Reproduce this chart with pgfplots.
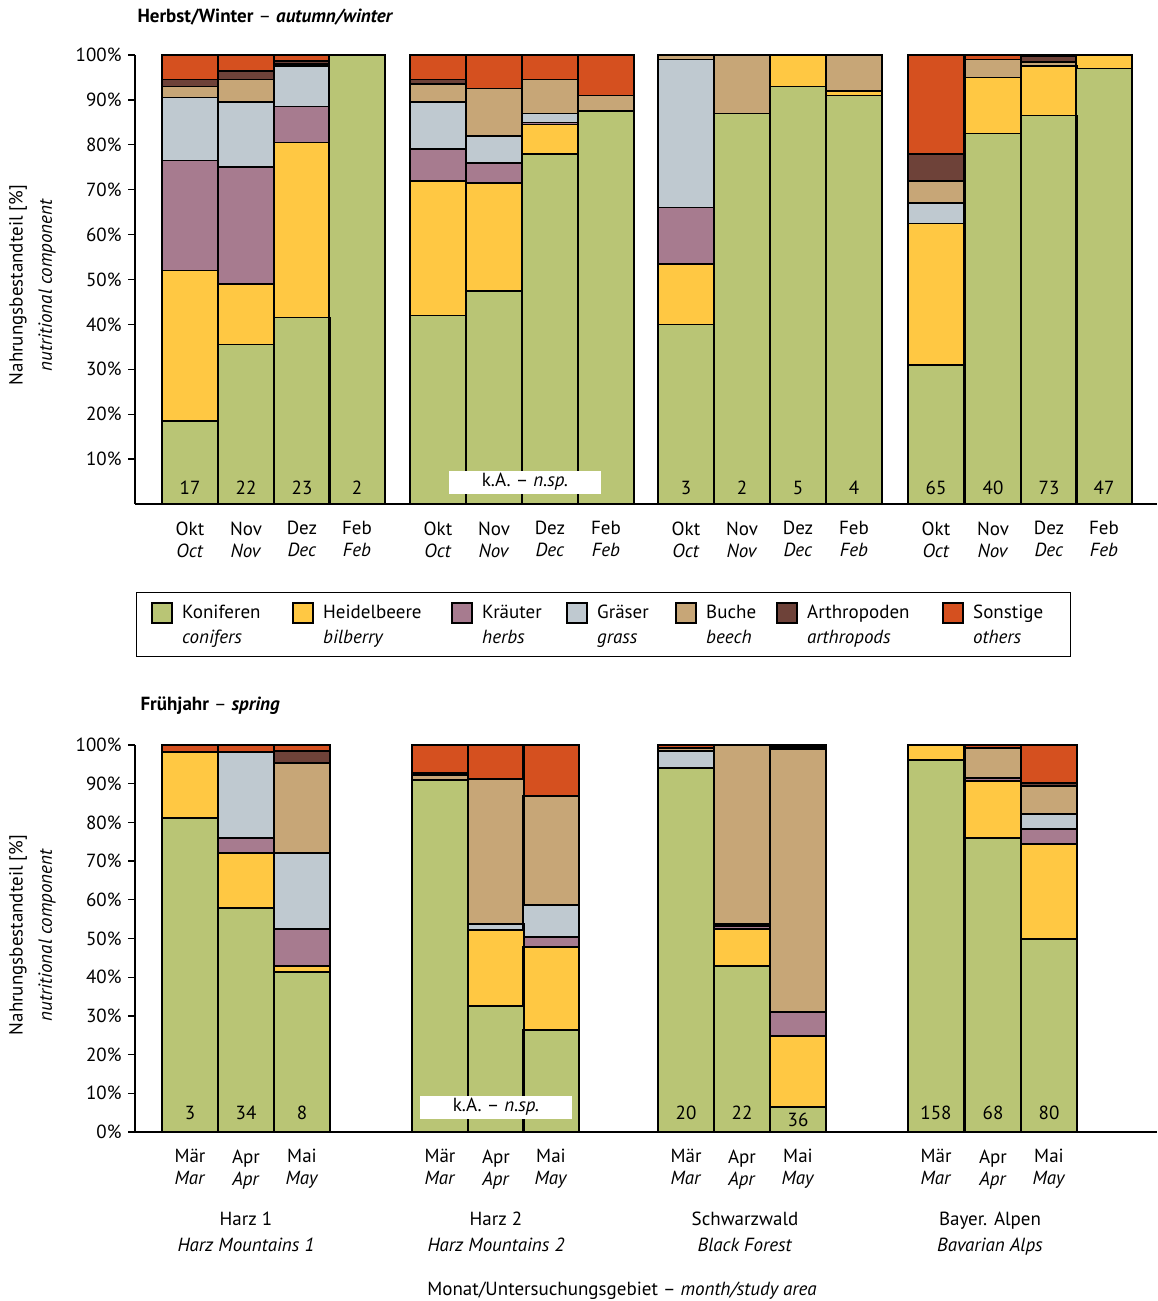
\documentclass[border=0pt]{standalone}
\usepackage{pgfplots}
\pgfplotsset{compat=1.18}
\usepackage{fontspec}
\setmainfont{PT Sans}
\definecolor{cCon}{HTML}{B9C575}
\definecolor{cBil}{HTML}{FFC843}
\definecolor{cHer}{HTML}{A77B8F}
\definecolor{cGra}{HTML}{BFC9D0}
\definecolor{cBee}{HTML}{C7A677}
\definecolor{cArt}{HTML}{6E4239}
\definecolor{cOth}{HTML}{D5501F}
\begin{document}
\fontsize{19}{22}\selectfont
\begin{tikzpicture}
\useasboundingbox (0pt,0pt) rectangle (1157pt,-1301pt);
\pgfplotsset{
  mybar/.style={ybar stacked, bar width=55.5, scale only axis, width=1022pt,
    xmin=135, xmax=1157, ymin=0, ymax=100,
    axis x line*=bottom, axis y line*=left,
    axis line style={line width=1.6pt},
    y tick style={line width=1.3pt, black}, tick align=outside, major tick length=7pt,
    x tick style={draw=none},
    yticklabel={\pgfmathprintnumber{\tick}\%},
    /pgf/number format/assume math mode=true,
    ticklabel style={font=\fontsize{19}{22}\selectfont},
    xticklabel style={align=center, yshift=-4pt},
    every axis plot/.append style={draw=black, line width=1.6pt},
    clip=false},
}
% ---------- top panel
\begin{axis}[mybar, at={(135pt,-504pt)}, anchor=south west, height=449pt,
  ytick={10,20,...,100},
  xtick={190,246,302,357,438,494,550,606,686,742,798,854,936,993,1049,1104},
  xticklabels={Okt\\\textit{Oct},Nov\\\textit{Nov},Dez\\\textit{Dec},Feb\\\textit{Feb},
               Okt\\\textit{Oct},Nov\\\textit{Nov},Dez\\\textit{Dec},Feb\\\textit{Feb},
               Okt\\\textit{Oct},Nov\\\textit{Nov},Dez\\\textit{Dec},Feb\\\textit{Feb},
               Okt\\\textit{Oct},Nov\\\textit{Nov},Dez\\\textit{Dec},Feb\\\textit{Feb}}]
\addplot[fill=cCon] coordinates {(190,18.5)(246,35.5)(302,41.5)(357,100)(438,42)(494,47.5)(550,78)(606,87.5)(686,40)(742,87)(798,93)(854,91)(936,31)(993,82.5)(1049,86.5)(1104,97)};
\addplot[fill=cBil] coordinates {(190,33.5)(246,13.5)(302,39)(357,0)(438,30)(494,24)(550,6.5)(606,0)(686,13.5)(742,0)(798,7)(854,1)(936,31.5)(993,12.5)(1049,11)(1104,3)};
\addplot[fill=cHer] coordinates {(190,24.5)(246,26)(302,8)(357,0)(438,7)(494,4.5)(550,0.5)(606,0)(686,12.5)(742,0)(798,0)(854,0)(936,0)(993,0)(1049,0)(1104,0)};
\addplot[fill=cGra] coordinates {(190,14)(246,14.5)(302,9)(357,0)(438,10.5)(494,6)(550,2)(606,0)(686,33)(742,0)(798,0)(854,0)(936,4.5)(993,0)(1049,0)(1104,0)};
\addplot[fill=cBee] coordinates {(190,2.5)(246,5)(302,0.5)(357,0)(438,4)(494,10.5)(550,7.5)(606,3.5)(686,1)(742,13)(798,0)(854,8)(936,5)(993,4)(1049,1)(1104,0)};
\addplot[fill=cArt] coordinates {(190,1.5)(246,2)(302,0.7)(357,0)(438,1)(494,0)(550,0)(606,0)(686,0)(742,0)(798,0)(854,0)(936,6)(993,0)(1049,1.2)(1104,0)};
\addplot[fill=cOth] coordinates {(190,5.5)(246,3.5)(302,1.3)(357,0)(438,5.5)(494,7.5)(550,5.5)(606,9)(686,0)(742,0)(798,0)(854,0)(936,22)(993,1)(1049,0.3)(1104,0)};
\end{axis}
\foreach \xx/\nn in {190/17,246/22,302/23,357/2,686/3,742/2,798/5,854/4,936/65,993/40,1049/73,1104/47}
  \node[anchor=base] at (\xx pt,-494pt) {\nn};
\node[fill=white, minimum width=152pt, minimum height=23pt, inner sep=0pt] at (525pt,-482pt) {k.A. -- \textit{n.sp.}};
\node[anchor=west] at (131pt,-17pt) {\textbf{Herbst/Winter} -- \textbf{\textit{autumn/winter}}};
\node[rotate=90] at (18pt,-285pt) {Nahrungsbestandteil [\%]};
\node[rotate=90] at (47pt,-285pt) {\textit{nutritional component}};
% ---------- legend
\draw[line width=0.8pt] (136pt,-592pt) rectangle (1070pt,-656pt);
\foreach \xx/\cc/\aa/\bb in {152/cCon/Koniferen/conifers,293/cBil/Heidelbeere/bilberry,452/cHer/Kräuter/herbs,567/cGra/Gräser/grass,676/cBee/Buche/beech,777/cArt/Arthropoden/arthropods,943/cOth/Sonstige/others}{
  \draw[fill=\cc, line width=1.2pt] (\xx pt,-603pt) rectangle ++(20pt,-20pt);
  \node[anchor=base west, inner sep=0pt] at (\xx pt+30pt,-618pt) {\aa};
  \node[anchor=base west, inner sep=0pt] at (\xx pt+30pt,-643pt) {\textit{\bb}};
}
% ---------- bottom panel
\begin{axis}[mybar, at={(135pt,-1132pt)}, anchor=south west, height=387pt,
  ytick={0,10,...,100},
  xtick={190,246,302,440,496,551,686,742,798,936,993,1049},
  xticklabels={Mär\\\textit{Mar},Apr\\\textit{Apr},Mai\\\textit{May},
               Mär\\\textit{Mar},Apr\\\textit{Apr},Mai\\\textit{May},
               Mär\\\textit{Mar},Apr\\\textit{Apr},Mai\\\textit{May},
               Mär\\\textit{Mar},Apr\\\textit{Apr},Mai\\\textit{May}}]
\addplot[fill=cCon] coordinates {(190,81.2)(246,57.9)(302,41.3)(440,91)(496,32.6)(551,26.4)(686,94)(742,42.9)(798,6.5)(936,96.1)(993,76)(1049,49.9)};
\addplot[fill=cBil] coordinates {(190,17)(246,14.2)(302,1.6)(440,0)(496,19.6)(551,21.4)(686,0)(742,9.6)(798,18.3)(936,3.9)(993,14.7)(1049,24.5)};
\addplot[fill=cHer] coordinates {(190,0)(246,3.9)(302,9.6)(440,0)(496,0)(551,2.6)(686,0)(742,0.7)(798,6.2)(936,0)(993,0.8)(1049,3.9)};
\addplot[fill=cGra] coordinates {(190,0)(246,22.2)(302,19.6)(440,0)(496,1.5)(551,8.3)(686,4.5)(742,0.5)(798,0)(936,0)(993,0)(1049,3.9)};
\addplot[fill=cBee] coordinates {(190,0)(246,0)(302,23.2)(440,1.3)(496,37.5)(551,28.1)(686,0.8)(742,46.3)(798,68)(936,0)(993,7.7)(1049,7.2)};
\addplot[fill=cArt] coordinates {(190,0)(246,0)(302,3.1)(440,0.5)(496,0)(551,0)(686,0)(742,0)(798,0.5)(936,0)(993,0)(1049,0.8)};
\addplot[fill=cOth] coordinates {(190,1.8)(246,1.8)(302,1.6)(440,7.2)(496,8.8)(551,13.2)(686,0.7)(742,0)(798,0.5)(936,0)(993,0.8)(1049,9.8)};
\end{axis}
\foreach \xx/\nn/\yy in {190/3/1119,246/34/1119,302/8/1119,686/20/1119,742/22/1119,798/36/1126,936/158/1119,993/68/1119,1049/80/1119}
  \node[anchor=base] at (\xx pt,-\yy pt) {\nn};
\node[fill=white, minimum width=152pt, minimum height=23pt, inner sep=0pt] at (496pt,-1107pt) {k.A. -- \textit{n.sp.}};
\node[anchor=west] at (134pt,-706pt) {\textbf{Frühjahr} -- \textbf{\textit{spring}}};
\node[rotate=90] at (18pt,-935pt) {Nahrungsbestandteil [\%]};
\node[rotate=90] at (47pt,-935pt) {\textit{nutritional component}};
\foreach \xx/\aa/\bb in {246/Harz 1/Harz Mountains 1,496/Harz 2/Harz Mountains 2,745/Schwarzwald/Black Forest,990/Bayer. Alpen/Bavarian Alps}{
  \node[anchor=base] at (\xx pt,-1225pt) {\aa};
  \node[anchor=base] at (\xx pt,-1251pt) {\textit{\bb}};
}
\node[anchor=base] at (622pt,-1295pt) {Monat/Untersuchungsgebiet -- \textit{month/study area}};
\end{tikzpicture}
\end{document}
